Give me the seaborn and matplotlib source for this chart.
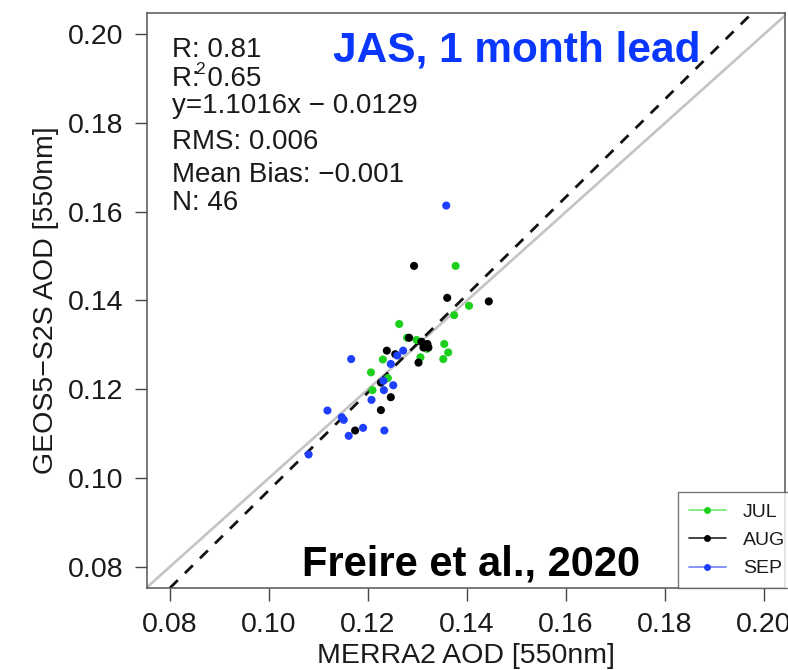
import matplotlib
matplotlib.use("Agg")
import matplotlib.pyplot as plt
from matplotlib.lines import Line2D
import seaborn as sns
import pandas as pd

# ---- data ----
months = ["JUL", "AUG", "SEP"]
jul_x = [0.1377, 0.1404, 0.1374, 0.1263, 0.1279, 0.1298, 0.1354, 0.1362, 0.1352, 0.1306, 0.1230, 0.1206, 0.1240, 0.1209, 0.1319]
jul_y = [0.1478, 0.1388, 0.1367, 0.1347, 0.1316, 0.1311, 0.1302, 0.1283, 0.1268, 0.1272, 0.1267, 0.1238, 0.1225, 0.1198, 0.1291]
aug_x = [0.1293, 0.1360, 0.1444, 0.1283, 0.1308, 0.1320, 0.1312, 0.1322, 0.1238, 0.1255, 0.1302, 0.1226, 0.1246, 0.1226, 0.1174]
aug_y = [0.1478, 0.1406, 0.1398, 0.1316, 0.1307, 0.1302, 0.1294, 0.1294, 0.1287, 0.1279, 0.1260, 0.1215, 0.1182, 0.1153, 0.1107]
sep_x = [0.1358, 0.1166, 0.1271, 0.1259, 0.1246, 0.1251, 0.1232, 0.1231, 0.1207, 0.1118, 0.1147, 0.1151, 0.1190, 0.1161, 0.1233, 0.1080]
sep_y = [0.1614, 0.1268, 0.1287, 0.1276, 0.1257, 0.1209, 0.1198, 0.1219, 0.1176, 0.1152, 0.1137, 0.1131, 0.1113, 0.1095, 0.1107, 0.1053]
x_ticks = [0.08, 0.10, 0.12, 0.14, 0.16, 0.18, 0.20]
y_ticks = [0.08, 0.10, 0.12, 0.14, 0.16, 0.18, 0.20]
fit_slope = 1.1016
fit_intercept = -0.0129
stats_lines = ["R: 0.81", "R: 0.65", "y=1.1016x \u2212 0.0129", "RMS: 0.006",
               "Mean Bias: \u22120.001", "N: 46"]

df = pd.DataFrame({
    "merra": jul_x + aug_x + sep_x,
    "geos": jul_y + aug_y + sep_y,
    "month": ["JUL"] * len(jul_x) + ["AUG"] * len(aug_x) + ["SEP"] * len(sep_x),
})

sns.set_style("white")
plt.rcParams["font.family"] = ["Liberation Sans", "DejaVu Sans"]

pt_colors = {"JUL": "#1ed01e", "AUG": "#000000", "SEP": "#1f3fff"}
line_colors = {"JUL": "#70e870", "AUG": "#222222", "SEP": "#7080ff"}

fig = plt.figure(figsize=(7.88, 6.70), dpi=100)
ax = fig.add_axes([147 / 788, 1 - 588 / 670, (785 - 147) / 788, (588 - 13) / 670])

ax.axline((0, 0), slope=1, color="#c4c4c4", lw=1.9, zorder=1)
ax.axline((0, fit_intercept), slope=fit_slope, color="#111111", lw=2.0,
          dashes=(4, 3.6), zorder=2)

sns.scatterplot(data=df, x="merra", y="geos", hue="month", hue_order=months,
                palette=pt_colors, s=34, linewidth=0, legend=False, ax=ax, zorder=3)

ax.set_xlim(0.07535, 0.20424)
ax.set_ylim(0.0752, 0.2048)
ax.set_xticks(x_ticks)
ax.set_yticks(y_ticks)
ax.set_xticklabels([f"{v:.2f}" for v in x_ticks])
ax.set_yticklabels([f"{v:.2f}" for v in y_ticks])
ax.tick_params(axis="both", which="major", direction="out", length=9, width=1.0,
               color="#444444", labelsize=20.5, labelcolor="#1a1a1a", pad=8,
               bottom=True, left=True)
for sp in ax.spines.values():
    sp.set_color("#555555")
    sp.set_linewidth(1.1)

ax.set_xlabel("MERRA2 AOD [550nm]", fontsize=20.5, color="#1a1a1a", labelpad=4)
ax.set_ylabel("GEOS5\u2212S2S AOD [550nm]", fontsize=20.5, color="#1a1a1a", labelpad=6)

# stats text (pixel positions converted to figure fractions)
baselines = [57, 86, 113, 149, 182, 210]
for txt, b in zip(stats_lines, baselines):
    fig.text(172 / 788, 1 - b / 670, txt, fontsize=20, color="#1a1a1a",
             va="baseline", ha="left")
fig.text(195 / 788, 1 - 74 / 670, "2", fontsize=12.5, color="#1a1a1a",
         va="baseline", ha="left")

fig.text(333 / 788, 1 - 62 / 670, "JAS, 1 month lead", fontsize=30.5,
         fontweight="bold", color="#0a37ff", va="baseline", ha="left")
fig.text(302 / 788, 1 - 575 / 670, "Freire et al., 2020", fontsize=30,
         fontweight="bold", color="#000000", va="baseline", ha="left")

handles = [Line2D([], [], color=line_colors[m], lw=1.2, marker="o", markersize=5,
                  markerfacecolor=pt_colors[m], markeredgewidth=0) for m in months]
leg = ax.legend(handles, months, loc="lower left",
                bbox_to_anchor=(0.832, 0.0, 0.2, 0.2), mode="expand",
                borderaxespad=0, fontsize=14, frameon=True, fancybox=False,
                handlelength=1.95, handletextpad=0.85, labelspacing=0.55,
                borderpad=0.55)
leg.get_frame().set_edgecolor("#555555")
leg.get_frame().set_linewidth(1.0)
for t in leg.get_texts():
    t.set_color("#1a1a1a")

fig.savefig("out.png", dpi=100)
